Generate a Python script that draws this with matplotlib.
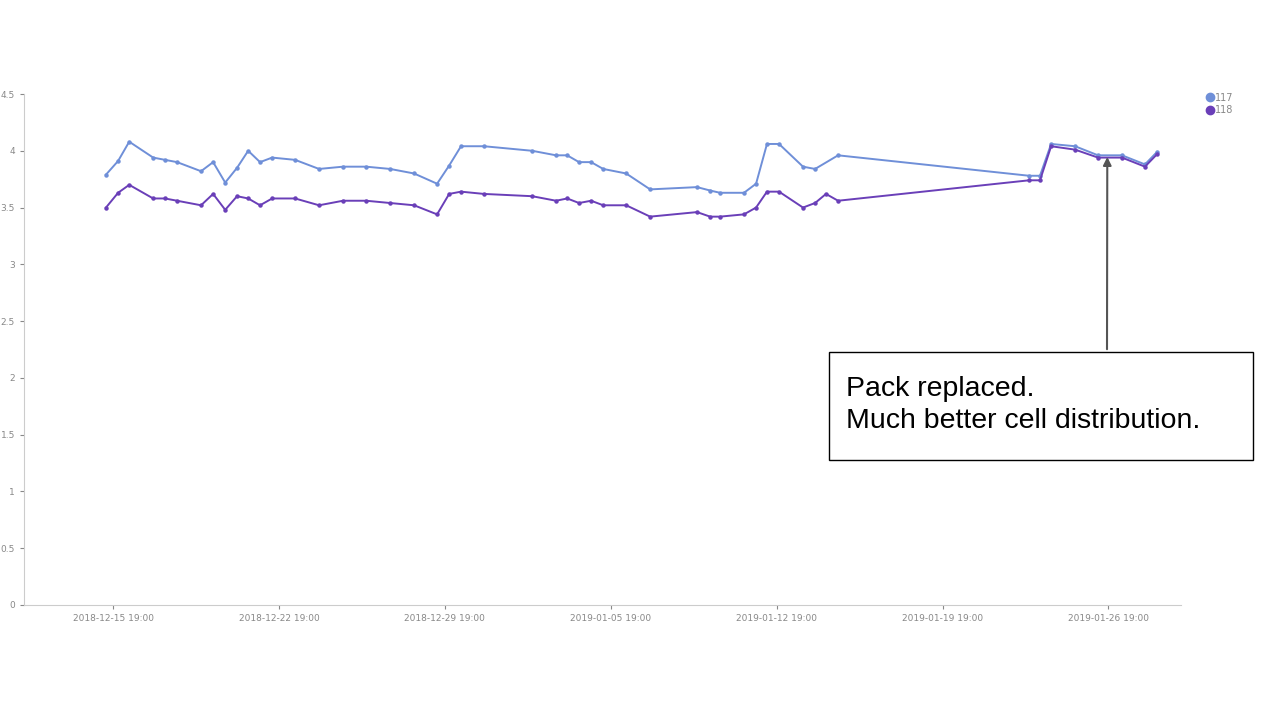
import numpy as np
import matplotlib.pyplot as plt
from matplotlib.dates import DateFormatter
from matplotlib.lines import Line2D
import datetime as dt

start = dt.datetime(2018, 12, 15, 19)

# day offsets from 2018-12-15 19:00
days_117 = [-0.30, 0.21, 0.68, 1.69, 2.19, 2.70, 3.71, 4.22, 4.73, 5.23, 5.70, 6.20, 6.71,
            7.68, 8.69, 9.70, 10.68, 11.69, 12.70, 13.67, 14.18, 14.68, 15.65, 17.68, 18.69,
            19.16, 19.66, 20.17, 20.68, 21.65, 22.66, 24.64, 25.19, 25.61, 26.62, 27.13,
            27.59, 28.10, 29.11, 29.62, 30.59, 38.65, 39.11, 39.58, 40.59, 41.56, 42.57,
            43.54, 44.05]
vals_117 = [3.79, 3.91, 4.08, 3.94, 3.92, 3.90, 3.82, 3.90, 3.72, 3.85, 4.00, 3.90, 3.94,
            3.92, 3.84, 3.86, 3.86, 3.84, 3.80, 3.71, 3.87, 4.04, 4.04, 4.00, 3.96,
            3.96, 3.90, 3.90, 3.84, 3.80, 3.66, 3.68, 3.65, 3.63, 3.63, 3.71,
            4.06, 4.06, 3.86, 3.84, 3.96, 3.78, 3.78, 4.06, 4.04, 3.96, 3.96,
            3.88, 3.99]
days_118 = [-0.30, 0.21, 0.68, 1.69, 2.19, 2.70, 3.71, 4.22, 4.73, 5.23, 5.70, 6.20, 6.71,
            7.68, 8.69, 9.70, 10.68, 11.69, 12.70, 13.67, 14.18, 14.68, 15.65, 17.68, 18.69,
            19.16, 19.66, 20.17, 20.68, 21.65, 22.66, 24.64, 25.19, 25.61, 26.62, 27.13,
            27.59, 28.10, 29.11, 29.62, 30.08, 30.59, 38.65, 39.11, 39.58, 40.59, 41.56,
            42.57, 43.54, 44.05]
vals_118 = [3.50, 3.63, 3.70, 3.58, 3.58, 3.56, 3.52, 3.62, 3.48, 3.60, 3.58, 3.52, 3.58,
            3.58, 3.52, 3.56, 3.56, 3.54, 3.52, 3.44, 3.62, 3.64, 3.62, 3.60, 3.56,
            3.58, 3.54, 3.56, 3.52, 3.52, 3.42, 3.46, 3.42, 3.42, 3.44, 3.50,
            3.64, 3.64, 3.50, 3.54, 3.62, 3.56, 3.74, 3.74, 4.04, 4.01, 3.94,
            3.94, 3.86, 3.97]
yticks = [0, 0.5, 1, 1.5, 2, 2.5, 3, 3.5, 4, 4.5]

def to_dates(days):
    return [start + dt.timedelta(days=d) for d in days]

fig = plt.figure(figsize=(12.8, 7.2), dpi=100)
ax = fig.add_axes([24 / 1280, 115 / 720, 1157 / 1280, 511 / 720])

c117, c118 = "#6f8fd8", "#6a3fb8"
ax.plot(to_dates(days_117), vals_117, color=c117, lw=1.4, marker="o", ms=2.2)
ax.plot(to_dates(days_118), vals_118, color=c118, lw=1.4, marker="o", ms=2.2)

ax.set_ylim(0, 4.5)
ax.set_yticks(yticks)
ax.set_yticklabels([f"{t:g}" for t in yticks])
ax.set_xlim(start + dt.timedelta(days=-3.76), start + dt.timedelta(days=45.06))
ax.set_xticks([start + dt.timedelta(days=7 * i) for i in range(7)])
ax.xaxis.set_major_formatter(DateFormatter("%Y-%m-%d %H:%M"))
ax.tick_params(labelsize=6.5, colors="#888888", length=3)
for s in ["top", "right"]:
    ax.spines[s].set_visible(False)
for s in ["left", "bottom"]:
    ax.spines[s].set_color("#cccccc")

handles = [Line2D([], [], ls="", marker="o", ms=6, color=c117),
           Line2D([], [], ls="", marker="o", ms=6, color=c118)]
ax.legend(handles, ["117", "118"], loc="upper left", bbox_to_anchor=(1.015, 1.02),
          frameon=False, fontsize=7, handlelength=0.5, handletextpad=0.3,
          labelspacing=0.25, labelcolor="#888888")

# annotation box and arrow
box = plt.Rectangle((829 / 1280, 1 - 460 / 720), 424 / 1280, 108 / 720,
                    transform=fig.transFigure, fill=False, ec="black", lw=1)
fig.add_artist(box)
fig.text(846 / 1280, 1 - 405 / 720, "Pack replaced.\nMuch better cell distribution.",
         fontsize=20.5, family="Liberation Sans", va="center", linespacing=1.25)
ax.annotate("", xy=(start + dt.timedelta(days=41.95), 3.97),
            xytext=(1107 / 1280, 1 - 352 / 720), textcoords="figure fraction",
            arrowprops=dict(arrowstyle="-|>", color="#555555", lw=1.5, mutation_scale=12))

fig.savefig("out.png", dpi=100)
